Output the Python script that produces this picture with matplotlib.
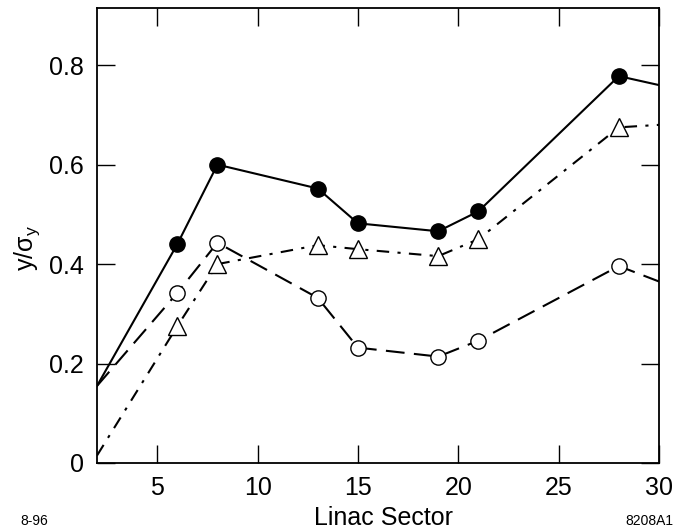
import matplotlib
matplotlib.use("Agg")
import matplotlib.pyplot as plt

plt.rcParams['font.family'] = ['Liberation Sans', 'DejaVu Sans']
plt.rcParams['mathtext.fontset'] = 'custom'
plt.rcParams['mathtext.rm'] = 'Liberation Sans'
plt.rcParams['mathtext.it'] = 'Liberation Sans'

# line endpoints at axis edges included (no markers there)
x_all = [2, 6, 8, 13, 15, 19, 21, 28, 30]
solid_y = [0.155, 0.44, 0.60, 0.552, 0.482, 0.466, 0.506, 0.778, 0.76]
open_y = [0.155, 0.342, 0.443, 0.332, 0.232, 0.214, 0.246, 0.396, 0.365]
tri_y = [0.015, 0.275, 0.40, 0.438, 0.430, 0.416, 0.450, 0.675, 0.68]

xticks = [5, 10, 15, 20, 25, 30]
yticks = [0, 0.2, 0.4, 0.6, 0.8]
ytick_labels = ['0', '0.2', '0.4', '0.6', '0.8']

W, H = 688, 529
fig = plt.figure(figsize=(W/100, H/100), dpi=100)
ax = fig.add_axes([97/W, 1 - 463/H, 562/W, 455/H])

mk = list(range(1, len(x_all) - 1))
ax.plot(x_all, solid_y, '-', color='black', lw=1.5, marker='o', ms=11,
        mfc='black', mec='black', markevery=mk, zorder=3)
ax.plot(x_all, open_y, color='black', lw=1.5, dashes=(9, 4.5), marker='o', ms=11,
        mfc='white', mec='black', mew=1.0, markevery=mk, zorder=3)
ax.plot(x_all, tri_y, color='black', lw=1.5, dashes=(6, 4, 1.5, 4), marker='^', ms=13,
        mfc='white', mec='black', mew=1.0, markevery=mk, zorder=3)

ax.set_xlim(2, 30)
ax.set_ylim(0, 0.915)
ax.set_xticks(xticks)
ax.set_yticks(yticks)
ax.set_yticklabels(ytick_labels)
ax.tick_params(direction='in', length=13, width=1.0, labelsize=18,
               top=True, right=True, pad=9.5)
for s in ax.spines.values():
    s.set_linewidth(1.3)

fig.text(384/W, 1 - 525/H, 'Linac Sector', fontsize=18, ha='center', va='baseline')
fig.text(27/W, 1 - 248/H, r'$\mathregular{y/\sigma_y}$', fontsize=18,
         rotation=90, ha='center', va='center')

fig.text(20/W, 1 - 521/H, '8-96', fontsize=10, va='center', ha='left')
fig.text(673/W, 1 - 521/H, '8208A1', fontsize=10, va='center', ha='right')

fig.savefig('out.png', dpi=100)
